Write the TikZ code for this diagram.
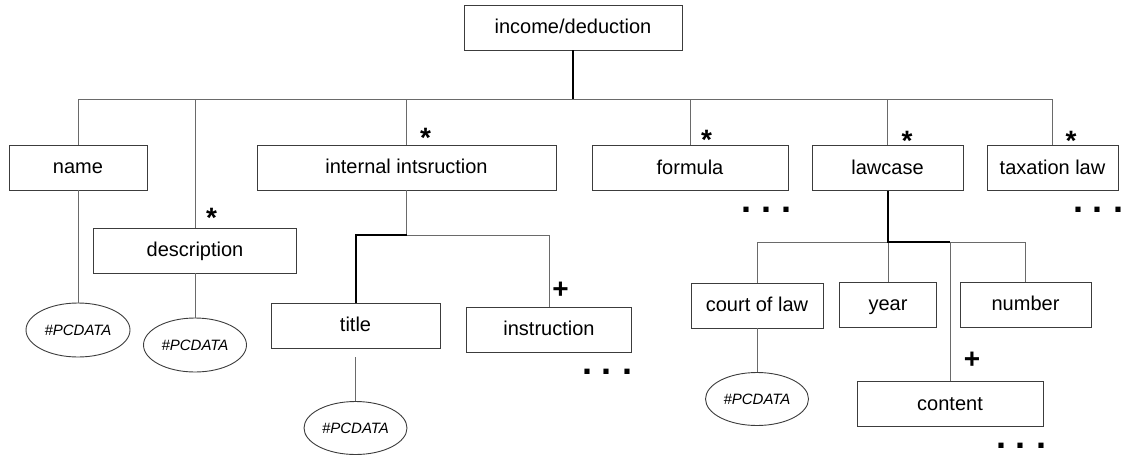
\documentclass[tikz,border=0pt]{standalone}
\usepackage{fontspec}
\setmainfont{Liberation Sans}
\usepackage{tikz}
\usetikzlibrary{shapes.geometric}
\definecolor{linecol}{HTML}{6A6A6A}
\definecolor{boxcol}{HTML}{3C3C3C}

\begin{document}
\begin{tikzpicture}[x=1pt,y=-1pt,
  elem/.style={draw=boxcol,line width=0.9pt,rectangle,inner sep=0pt,minimum height=45pt,
    text height=15pt,text depth=3pt,font=\fontsize{20}{24}\selectfont},
  pcdata/.style={draw=boxcol,line width=0.9pt,ellipse,inner sep=0pt,minimum width=103pt,
    minimum height=53pt,text height=11pt,text depth=0pt,font=\fontsize{15}{17}\selectfont\itshape},
  link/.style={linecol,line width=0.9pt},
  mainlink/.style={black,line width=2pt},
  card/.style={inner sep=0pt,anchor=base,font=\fontsize{28}{28}\selectfont\bfseries},
  more/.style={inner sep=0pt,font=\fontsize{36}{36}\selectfont\bfseries}]
  \useasboundingbox (0,0) rectangle (1131,455);
  % element boxes
  \node[elem,minimum width=218pt] (root) at (573,27.5) {income/deduction};
  \node[elem,minimum width=138pt] (name) at (78,167.5) {name};
  \node[elem,minimum width=203pt] (description) at (195,250.5) {description};
  \node[elem,minimum width=299pt] (internal) at (406.5,167.5) {internal intsruction};
  \node[elem,minimum width=196pt] (formula) at (690,168) {formula};
  \node[elem,minimum width=151pt] (lawcase) at (887.5,168) {lawcase};
  \node[elem,minimum width=131pt] (taxlaw) at (1052.5,168) {taxation law};
  \node[elem,minimum width=169pt] (title) at (355.5,325.5) {title};
  \node[elem,minimum width=165pt] (instruction) at (549,329.5) {instruction};
  \node[elem,minimum width=132pt] (court) at (757,305.5) {court of law};
  \node[elem,minimum width=97pt] (year) at (888,304.5) {year};
  \node[elem,minimum width=131pt] (number) at (1025.5,304.5) {number};
  \node[elem,minimum width=186pt] (content) at (950,404) {content};
  % text leaves
  \node[pcdata,minimum width=104pt,minimum height=54pt] (pc1) at (78,330) {\#PCDATA};
  \node[pcdata,minimum height=54pt] (pc2) at (195,345) {\#PCDATA};
  \node[pcdata] (pc3) at (355.5,428) {\#PCDATA};
  \node[pcdata] (pc4) at (757,399) {\#PCDATA};
  % bus levels
  \path (0,99) coordinate (bus) (0,235) coordinate (ibus) (0,242) coordinate (lbus);
  % root and its children
  \draw[mainlink] (root) -- (root |- bus);
  \draw[link] (name |- bus) -- (taxlaw |- bus);
  \foreach \n in {name,description,internal,formula,lawcase,taxlaw}
    \draw[link] (\n |- bus) -- (\n);
  \draw[link] (name) -- (pc1);
  \draw[link] (description) -- (pc2);
  % internal instruction
  \draw[link] (internal) -- (internal |- ibus) -- (instruction |- ibus) -- (instruction);
  \draw[mainlink] (internal |- ibus) -- (title |- ibus) -- (title);
  \draw[link] ([yshift=-9pt]title.south) -- (pc3);
  % lawcase
  \draw[link] (court |- lbus) -- (number |- lbus);
  \foreach \n in {court,year,number,content}
    \draw[link] (\n |- lbus) -- (\n);
  \draw[mainlink] (lawcase) -- (lawcase |- lbus) -- (content |- lbus);
  \draw[link] (court) -- (pc4);
  % cardinalities
  \foreach \x/\y/\m/\c in {211.5/227/*/s1,425.5/147/*/s2,706.5/149/*/s3,907/150/*/s4,
      1071/150/*/s5,560.5/298/+/p1,972/368/+/p2}
    \node[card] (\c) at (\x,\y) {\m};
  % continuation dots
  \foreach \x/\y/\c in {766.5/210/d1,1098/210/d2,607/372/d3,1021/446/d4}
    \node[more] (\c) at (\x,\y) {.\hspace{10pt}.\hspace{10pt}.};
\end{tikzpicture}
\end{document}
